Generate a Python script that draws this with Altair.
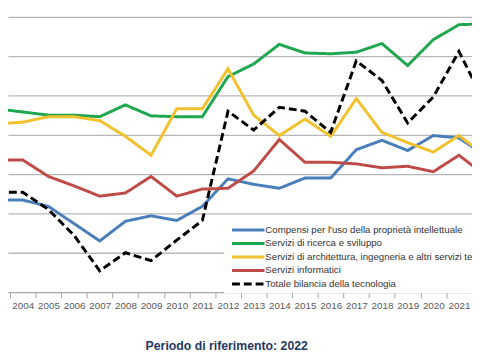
import altair as alt
import pandas as pd

years = list(range(2003, 2023))

series_names = [
    "Compensi per l'uso della proprietà intellettuale",
    "Servizi di ricerca e sviluppo",
    "Servizi di architettura, ingegneria e altri servizi tecnici",
    "Servizi informatici",
    "Totale bilancia della tecnologia",
]

compensi = [-0.33, -0.33, -0.41, -0.63, -0.85, -0.60, -0.53, -0.59, -0.41, -0.06,
            -0.13, -0.18, -0.05, -0.05, 0.31, 0.43, 0.30, 0.49, 0.46, 0.24]
ricerca = [0.83, 0.79, 0.75, 0.75, 0.73, 0.88, 0.74, 0.73, 0.73, 1.24,
           1.40, 1.65, 1.54, 1.53, 1.55, 1.66, 1.38, 1.71, 1.90, 1.91]
architettura = [0.64, 0.66, 0.73, 0.73, 0.68, 0.48, 0.24, 0.83, 0.83, 1.34,
                0.75, 0.49, 0.70, 0.48, 0.96, 0.53, 0.40, 0.28, 0.49, 0.24]
informatici = [0.18, 0.18, -0.03, -0.15, -0.28, -0.24, -0.03, -0.28, -0.19, -0.18,
               0.04, 0.44, 0.15, 0.15, 0.13, 0.08, 0.10, 0.03, 0.24, -0.01]
totale = [-0.23, -0.23, -0.45, -0.78, -1.23, -1.00, -1.10, -0.84, -0.59, 0.80,
          0.56, 0.85, 0.80, 0.53, 1.44, 1.19, 0.65, 0.98, 1.56, 0.91]

y_grid = [-1.5, -1.0, -0.5, 0.0, 0.5, 1.0, 1.5, 2.0]
x_ticks = [y + 0.5 for y in range(2003, 2022)]

colors = ["#4A7EBB", "#1FA64F", "#F2C12E", "#BE4B48", "#000000"]
dashes = [[1, 0], [1, 0], [1, 0], [1, 0], [8, 4]]

all_series = [compensi, ricerca, architettura, informatici, totale]
rows = []
for name, vals in zip(series_names, all_series):
    for yr, v in zip(years, vals):
        rows.append({"year": yr, "series": name, "value": v})
df = pd.DataFrame(rows)

FONT = "Liberation Sans"

legend_opts = dict(
    title=None,
    orient="none",
    legendX=220,
    legendY=209,
    symbolType="M0,0H33",
    symbolSize=4,
    symbolStrokeWidth=3,
    labelFont=FONT,
    labelFontSize=9.8,
    labelColor="#333333",
    labelLimit=0,
    labelOffset=29,
    rowPadding=0.7,
    fillColor="white",
    padding=3,
)

chart = alt.Chart(df).mark_line(strokeWidth=3, clip=True).encode(
    x=alt.X(
        "year:Q",
        scale=alt.Scale(domain=[2003.425, 2021.509], nice=False, zero=False),
        axis=alt.Axis(
            values=x_ticks,
            labelExpr="'' + floor(datum.value)",
            labelOffset=-13,
            labelFlush=False,
            labelOverlap=False,
            labelBound=False,
            labelFont=FONT,
            labelFontSize=10,
            labelColor="#595959",
            labelPadding=3,
            tickSize=6,
            tickColor="#A6A6A6",
            domainColor="#A6A6A6",
            grid=False,
            title="Periodo di riferimento: 2022",
            titleFont=FONT,
            titleFontSize=12.5,
            titleFontWeight="bold",
            titleColor="#1F3864",
            titleX=222,
            titleY=58.5,
            titleAlign="center",
            titleBaseline="alphabetic",
        ),
    ),
    y=alt.Y(
        "value:Q",
        scale=alt.Scale(domain=[-1.5, 2.0], nice=False, zero=False),
        axis=alt.Axis(
            values=y_grid,
            labels=False,
            ticks=False,
            domain=False,
            grid=True,
            gridColor="#B7B7B7",
            gridWidth=1.3,
            title=None,
        ),
    ),
    color=alt.Color(
        "series:N",
        scale=alt.Scale(domain=series_names, range=colors),
        legend=alt.Legend(**legend_opts),
    ),
    strokeDash=alt.StrokeDash(
        "series:N",
        scale=alt.Scale(domain=series_names, range=dashes),
        legend=alt.Legend(**legend_opts),
    ),
).properties(
    width=472,
    height=280,
    autosize=alt.AutoSizeParams(type="none"),
    padding={"left": 0, "top": 6, "right": 0, "bottom": 58},
).configure_view(stroke=None)

chart.save("out.html", embed_options={"renderer": "svg", "actions": False})
